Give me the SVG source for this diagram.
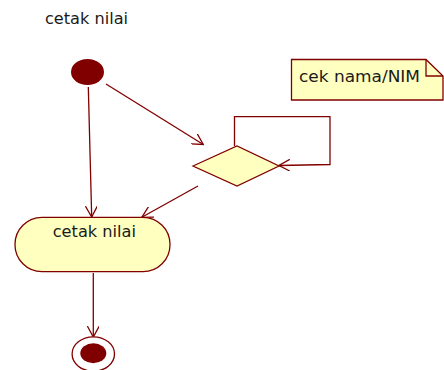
<svg xmlns="http://www.w3.org/2000/svg" width="444" height="370" viewBox="0 0 444 370">
  <defs>
    <marker id="open" viewBox="0 0 12 12" refX="11" refY="6" markerWidth="12" markerHeight="12" markerUnits="userSpaceOnUse" orient="auto">
      <path d="M0,0 L11,6 L0,12" fill="none" stroke="#800000" stroke-width="1.3"/>
    </marker>
  </defs>
  <style>
    .lbl { font-family: "DejaVu Sans", Verdana, sans-serif; font-size: 15px; fill: #1a1a1a; }
    .shape { fill: #FFFFC0; stroke: #800000; stroke-width: 1.3; }
    .edge { fill: none; stroke: #800000; stroke-width: 1.3; marker-end: url(#open); }
    .dot { fill: #800000; }
  </style>
  <rect width="444" height="370" fill="#ffffff"/>

  <text class="lbl" x="45" y="24" textLength="83" lengthAdjust="spacingAndGlyphs">cetak nilai</text>

  <g id="connectors">
    <path class="edge" d="M88.3,87 L91.7,217"/>
    <path class="edge" d="M106,84 L203.3,144.5"/>
    <path class="edge" d="M234.5,146 L234.5,116.7 L330,116.7 L330,164.5 L279,165.5"/>
    <path class="edge" d="M198,186 L141.8,217.3"/>
    <path class="edge" d="M93.3,273 L93.3,337"/>
  </g>

  <g id="start">
    <ellipse class="dot" cx="87.5" cy="72" rx="16.5" ry="13"/>
  </g>

  <g id="decision">
    <polygon class="shape" points="193,166 237,146 279,166 237,186"/>
  </g>

  <g id="action">
    <rect class="shape" x="15" y="217.3" width="155" height="54.4" rx="27" ry="27"/>
    <text class="lbl" x="52.7" y="237.3" textLength="83.3" lengthAdjust="spacingAndGlyphs">cetak nilai</text>
  </g>

  <g id="end">
    <ellipse cx="93.3" cy="354" rx="21.2" ry="17.2" fill="#ffffff" stroke="#800000" stroke-width="1.3"/>
    <ellipse class="dot" cx="93.3" cy="353.3" rx="13" ry="10"/>
  </g>

  <g id="note">
    <path class="shape" d="M291.5,59.5 L426,59.5 L443,76 L443,100 L291.5,100 Z"/>
    <path fill="none" stroke="#800000" stroke-width="1.3" d="M426,59.5 L426,76 L443,76"/>
    <text class="lbl" x="299" y="81.7" textLength="121" lengthAdjust="spacingAndGlyphs">cek nama/NIM</text>
  </g>
</svg>
